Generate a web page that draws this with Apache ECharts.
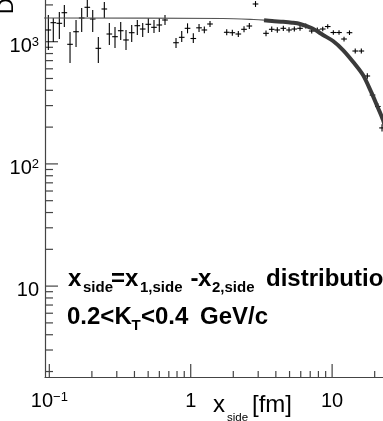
<!DOCTYPE html>
<html>
<head>
<meta charset="utf-8">
<title>x_side distribution</title>
<style>
  html, body { margin: 0; padding: 0; background: #fff; }
  #chart { width: 383px; height: 421px; }
</style>
</head>
<body>
<div id="chart"></div>
<script src="https://cdn.jsdelivr.net/npm/echarts@6/dist/echarts.min.js"></script>
<script>
// histogram points (bin centre, content, lower / upper end of error bar)
const xSide = [0.0984, 0.1067, 0.1177, 0.1277, 0.1401, 0.1545, 0.1694, 0.1856, 0.2027, 0.2221,
  0.2449, 0.2657, 0.2914, 0.3198, 0.3486, 0.3825, 0.4191, 0.4575, 0.5013, 0.5499, 0.5995, 0.6578,
  0.787, 0.8637, 0.9493, 1.043, 1.145, 1.248, 1.369,
  1.797, 1.969, 2.171, 2.382, 2.597, 2.872,
  3.408, 3.740, 4.097, 4.518, 4.957, 5.404, 5.929, 6.506, 7.173, 7.859, 8.583, 9.309,
  10.20, 11.19, 12.14, 13.27, 14.57, 16.09, 17.74, 19.31, 21.05, 22.54];
const counts = [1247, 1431, 1414, 1727, 952, 1207, 1563, 1912, 1534, 883,
  1852, 1156, 1099, 1230, 1033, 1185, 1352, 1270, 1388, 1311, 1370, 1505,
  981, 1086, 1287, 1062, 1299, 1247, 1396,
  1194, 1185, 1156, 1263, 1344, 2035,
  1171, 1263, 1247, 1287, 1247, 1270, 1287, 1344, 1223, 1247, 1270, 1331,
  1189, 1189, 1052, 1185, 839, 839, 524, 366, 295, 197];
const countsLo = [855, 994, 1052, 1319, 669, 905, 1200, 1593, 1200, 669,
  1563, 940, 888, 1033, 855, 994, 1135, 1093, 1178, 1178, 1200, 1370,
  888, 994, 1171, 976, 1200, 1171, 1319,
  1128, 1120, 1093, 1195, 1272, 1925,
  1110, 1200, 1185, 1225, 1187, 1210, 1228, 1284, 1168, 1192, 1215, 1275,
  1138, 1138, 1005, 1135, 800, 800, 498, 346, 278, 184];
const countsHi = [1654, 1563, 1750, 1996, 1200, 1505, 1887, 2250, 1817, 1093,
  2113, 1422, 1319, 1449, 1247, 1370, 1505, 1422, 1563, 1505, 1563, 1654,
  1072, 1223, 1414, 1171, 1396, 1331, 1477,
  1263, 1252, 1222, 1335, 1420, 2150,
  1235, 1330, 1312, 1352, 1310, 1333, 1348, 1406, 1280, 1304, 1327, 1389,
  1242, 1242, 1100, 1237, 880, 880, 551, 387, 313, 211];
const binHalf = 1.047; // half bin width, as a ratio (log bins)

// fit curve, thin over the full range, thick over the fit range
const fitX = [0.09, 1.69, 2.80, 3.30, 3.76, 4.5, 5.20, 5.93, 7.21, 8.62, 10.15, 11.94, 14.05, 16.54, 18.84, 21.12, 22.9, 25];
const fitY = [1563, 1548, 1519, 1500, 1477, 1455, 1431, 1396, 1287, 1135, 1013, 855, 686, 534, 390, 287, 229, 160];
const fitFrom = 3.3;

// ticks
const xMajor = [0.1, 1, 10];
const xMinor = [0.2, 0.3, 0.4, 0.5, 0.6, 0.7, 0.8, 0.9, 2, 3, 4, 5, 6, 7, 8, 9, 20];
const yMajor = [10, 100, 1000];
const yMinor = [2, 3, 4, 5, 6, 7, 8, 9, 20, 30, 40, 50, 60, 70, 80, 90,
  200, 300, 400, 500, 600, 700, 800, 900, 2000];

const X_MIN = 0.0932, X_MAX = 22.9, Y_MIN = 1.804, Y_MAX = 2194;
const FONT = '"Liberation Sans", Arial, Helvetica, sans-serif';
const AXIS = '#444';

const chart = echarts.init(document.getElementById('chart'));

const points = xSide.map((x, i) => [x, counts[i], countsLo[i], countsHi[i]]);
const fitAll = fitX.map((x, i) => [x, fitY[i]]);
const fitRange = fitAll.filter(p => p[0] >= fitFrom);

const tickData = [];
xMajor.forEach(v => tickData.push([v, Y_MIN, 0]));
xMinor.forEach(v => tickData.push([v, Y_MIN, 1]));
yMajor.forEach(v => tickData.push([X_MIN, v, 2]));
yMinor.forEach(v => tickData.push([X_MIN, v, 3]));
const tickLen = [13, 6, 13, 8];

function isDecade(v) {
  const l = Math.log10(v);
  return Math.abs(l - Math.round(l)) < 1e-6 ? Math.round(l) : null;
}

// text pieces; y is the baseline
function run(parts, baseline, size, subSize, subDrop, weight) {
  return parts.map(([t, x, sub]) => {
    const fs = sub ? subSize : size;
    return {
      type: 'text', x: x, y: baseline + (sub ? subDrop : 0) - 0.31 * fs,
      style: {
        text: t, font: weight + ' ' + fs + 'px ' + FONT, fill: '#000',
        align: 'left', verticalAlign: 'middle', textAlign: 'left', textVerticalAlign: 'middle'
      }
    };
  });
}

const texts = [].concat(
  run([['x', 68], ['side', 83, 1], ['=', 111], ['x', 125], ['1,side', 140, 1],
       ['-', 190.5], ['x', 198], ['2,side', 212, 1], ['distribution', 266]], 287, 24, 15, 6, 'bold'),
  run([['0.2<K', 67], ['T', 131.5, 1], ['<0.4', 141], ['GeV/c', 200]], 325, 24, 15, 6, 'bold'),
  run([['x', 213], ['side', 227, 1], ['[fm]', 252]], 413, 24, 11.5, 8, 'normal'),
  [{
    type: 'text', x: 6.5, y: 14, rotation: Math.PI / 2,
    style: {
      text: 'D(x_side)', font: '22px ' + FONT, fill: '#000',
      align: 'left', verticalAlign: 'middle', textAlign: 'left', textVerticalAlign: 'middle'
    }
  }]
);

chart.setOption({
  animation: false,
  backgroundColor: '#fff',
  grid: { left: 45, top: 0, width: 338, height: 377 },
  xAxis: {
    type: 'log', logBase: 10, min: X_MIN, max: X_MAX,
    axisLine: { lineStyle: { color: AXIS, width: 1.2 } },
    axisTick: { show: false },
    splitLine: { show: false },
    axisLabel: {
      margin: 14, showMinLabel: false, showMaxLabel: false,
      formatter: v => {
        const e = isDecade(v);
        if (e === null) return '';
        if (e === 0) return '{n|1}';
        if (e === 1) return '{n|10}';
        return '{n|10}{e|' + String(e).replace('-', '\u2212') + '}';
      },
      rich: {
        n: { fontSize: 20, fontFamily: FONT, color: '#000', lineHeight: 20 },
        e: { fontSize: 13, fontFamily: FONT, color: '#000', lineHeight: 14, verticalAlign: 'top' }
      }
    }
  },
  yAxis: {
    type: 'log', logBase: 10, min: Y_MIN, max: Y_MAX,
    axisLine: { lineStyle: { color: AXIS, width: 1.2 } },
    axisTick: { show: false },
    splitLine: { show: false },
    axisLabel: {
      margin: 6, showMinLabel: false, showMaxLabel: false, padding: [9, 0, 0, 0],
      formatter: v => {
        const e = isDecade(v);
        if (e === null) return '';
        if (e === 1) return '{n|10}';
        return '{n|10}{e|' + e + '}';
      },
      rich: {
        n: { fontSize: 20, fontFamily: FONT, color: '#000', lineHeight: 20 },
        e: { fontSize: 13, fontFamily: FONT, color: '#000', lineHeight: 8, verticalAlign: 'top' }
      }
    }
  },
  series: [
    {
      type: 'custom', name: 'ticks', data: tickData, encode: { x: 0, y: 1 }, z: 1,
      renderItem: (params, api) => {
        const p = api.coord([api.value(0), api.value(1)]);
        const k = api.value(2), len = tickLen[k];
        const shape = k < 2
          ? { x1: p[0], y1: p[1], x2: p[0], y2: p[1] - len }
          : { x1: p[0], y1: p[1], x2: p[0] + len, y2: p[1] };
        return { type: 'line', shape: shape, style: { stroke: AXIS, lineWidth: 1.2 } };
      }
    },
    {
      type: 'custom', name: 'data', data: points, encode: { x: 0, y: 1 }, clip: true, z: 2,
      renderItem: (params, api) => {
        const x = api.value(0), y = api.value(1);
        const c = api.coord([x, y]);
        const l = api.coord([x / binHalf, y]);
        const r = api.coord([x * binHalf, y]);
        const lo = api.coord([x, api.value(2)]);
        const hi = api.coord([x, api.value(3)]);
        const st = { stroke: '#000', lineWidth: 1.1 };
        return {
          type: 'group', children: [
            { type: 'line', shape: { x1: l[0], y1: c[1], x2: r[0], y2: c[1] }, style: st },
            { type: 'line', shape: { x1: c[0], y1: hi[1], x2: c[0], y2: lo[1] }, style: st }
          ]
        };
      }
    },
    {
      type: 'line', name: 'fit', data: fitAll, showSymbol: false, smooth: 0.3, z: 3,
      lineStyle: { color: '#555', width: 1.2 }
    },
    {
      type: 'line', name: 'fit range', data: fitRange, showSymbol: false, smooth: 0.3, z: 4,
      lineStyle: { color: '#3a3a3a', width: 4 }
    }
  ],
  graphic: texts
});
</script>
</body>
</html>
